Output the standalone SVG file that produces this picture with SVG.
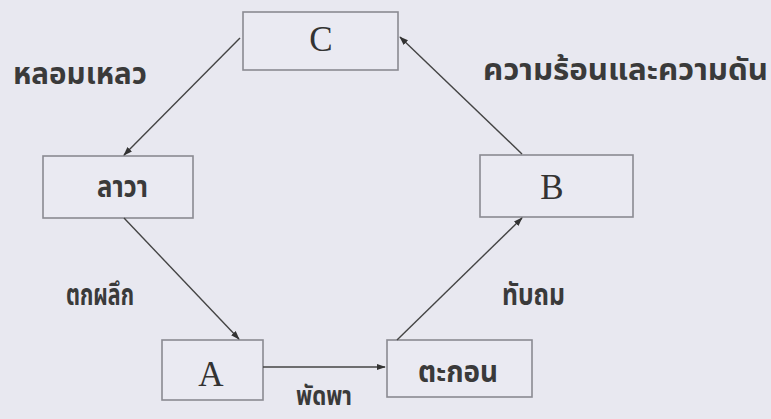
<svg xmlns="http://www.w3.org/2000/svg" width="771" height="419" viewBox="0 0 771 419">
<defs>
<marker id="ah" viewBox="0 0 10 10" refX="9" refY="5" markerWidth="9" markerHeight="9" orient="auto" markerUnits="userSpaceOnUse">
<path d="M0,1.5 L10,5 L0,8.5 Z" fill="#333"/>
</marker>
</defs>
<style>
.box{fill:#eaeaf2;stroke:#8a8a92;stroke-width:1.6}
.lat{font-family:"Liberation Serif","DejaVu Serif",serif;font-size:35px;fill:#333;text-anchor:middle}
.th{font-family:"Noto Sans Thai","Noto Sans","DejaVu Sans",sans-serif;font-weight:bold;fill:#3a3a3a;font-size:30px}
.con line{stroke:#444;stroke-width:1.4;marker-end:url(#ah)}
</style>
<rect width="771" height="419" fill="#e8e8f0"/>
<g id="nodeC"><rect class="box" x="243" y="12" width="155" height="58"/><text class="lat" x="321" y="51">C</text></g>
<g id="nodeB"><rect class="box" x="480" y="155" width="153" height="62"/><text class="lat" x="552" y="199">B</text></g>
<g id="nodeLava"><rect class="box" x="43" y="156" width="150" height="62"/><text class="th" x="97" y="197" textLength="51" lengthAdjust="spacingAndGlyphs">ลาวา</text></g>
<g id="nodeA"><rect class="box" x="162" y="340" width="101" height="60"/><text class="lat" x="211" y="386">A</text></g>
<g id="nodeSed"><rect class="box" x="387" y="340" width="145" height="57"/><text class="th" x="418" y="382" textLength="80" lengthAdjust="spacingAndGlyphs">ตะกอน</text></g>
<g class="con" id="connectors">
<line x1="240" y1="38" x2="124" y2="155"/>
<line x1="124" y1="218" x2="239" y2="339"/>
<line x1="263" y1="367" x2="385" y2="367"/>
<line x1="397" y1="340" x2="522" y2="218"/>
<line x1="522" y1="154" x2="400" y2="37"/>
</g>
<g id="labels" class="th">
<text x="13" y="84" textLength="134" lengthAdjust="spacingAndGlyphs">หลอมเหลว</text>
<text x="483" y="80" textLength="285" lengthAdjust="spacingAndGlyphs">ความร้อนและความดัน</text>
<text x="66" y="305" textLength="68" lengthAdjust="spacingAndGlyphs">ตกผลึก</text>
<text x="502" y="305" textLength="63" lengthAdjust="spacingAndGlyphs">ทับถม</text>
<text x="296" y="405" font-size="26" textLength="56" lengthAdjust="spacingAndGlyphs">พัดพา</text>
</g>
</svg>
